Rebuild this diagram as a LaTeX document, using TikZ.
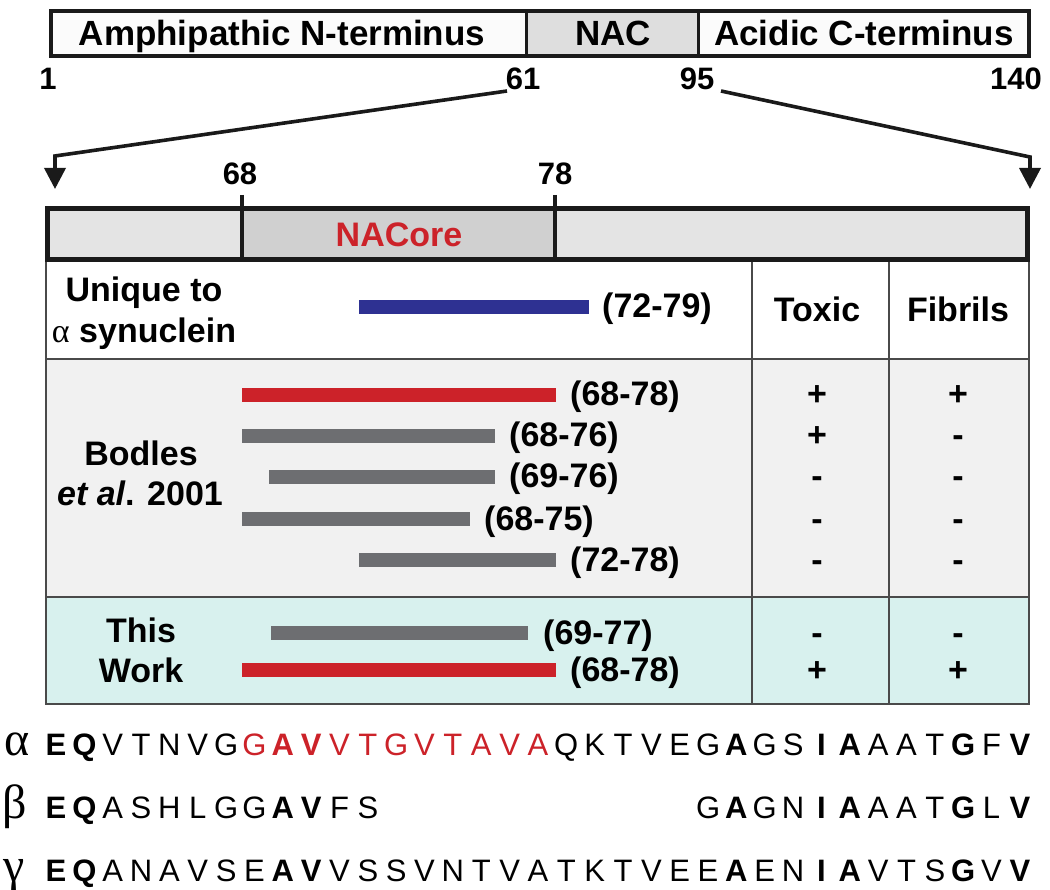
\documentclass[tikz,border=0pt]{standalone}
\usepackage{fontspec}
\setmainfont{Liberation Sans}
\newfontfamily\greekserif{Liberation Serif}
\usetikzlibrary{arrows.meta}
\definecolor{nacgray}{HTML}{DEDEDE}
\definecolor{boxwhite}{HTML}{FBFBFB}
\definecolor{coreside}{HTML}{E4E4E4}
\definecolor{coremid}{HTML}{D0D0D0}
\definecolor{rowgray}{HTML}{F1F1F1}
\definecolor{rowcyan}{HTML}{D8F1EE}
\definecolor{barred}{HTML}{CC2229}
\definecolor{barblue}{HTML}{2E3192}
\definecolor{bargray}{HTML}{6D6E71}
\definecolor{gridline}{HTML}{4A4A4A}
\definecolor{ink}{HTML}{1A1A1A}
\begin{document}
\begin{tikzpicture}[x=1pt,y=-1pt,
  big/.style={anchor=base,inner sep=0pt,font=\bfseries\fontsize{35}{40}\selectfont},
  lbl/.style={anchor=base,inner sep=0pt,font=\bfseries\fontsize{34}{38}\selectfont},
  num/.style={anchor=base,inner sep=0pt,font=\bfseries\fontsize{31}{36}\selectfont},
  rng/.style={anchor=base west,inner sep=0pt,font=\bfseries\fontsize{34}{38}\selectfont},
  pep/.style={line width=14pt},
  grid/.style={draw=gridline,line width=1.8pt},
  seqletter/.style={anchor=base,inner sep=0pt},
  sqn/.style={font=\fontsize{31}{34}\selectfont,text=black},
  sqb/.style={font=\bfseries\fontsize{31}{34}\selectfont,text=black},
  sqr/.style={font=\fontsize{31}{34}\selectfont,text=barred},
  sqrb/.style={font=\bfseries\fontsize{31}{34}\selectfont,text=barred},
  greek/.style={anchor=base,inner sep=0pt,font=\greekserif\fontsize{48}{52}\selectfont},
  conn/.style={draw=ink,line width=3.6pt,-{Triangle[width=21pt,length=21pt]}}]
\useasboundingbox (0,0) rectangle (1050,890);
\fill[white] (0,0) rectangle (1050,890);

% ---------- top domain box ----------
\fill[boxwhite] (51,11) rectangle (1029,56);
\fill[nacgray] (526,11) rectangle (698,56);
\draw[ink,line width=3.5pt] (51,11) rectangle (1029,56);
\draw[ink,line width=3pt] (526,11) -- (526,56);
\draw[ink,line width=3pt] (698,11) -- (698,56);
\node[big] (nterm) at (282,46) {Amphipathic N-terminus};
\node[big] (nac) at (613,46) {NAC};
\node[big] (cterm) at (864,46) {Acidic C-terminus};

\node[num] (n1) at (48,90) {1};
\node[num] (n61) at (523,90) {61};
\node[num] (n95) at (697,90) {95};
\node[num] (n140) at (1016,90) {140};

% ---------- expansion arrows ----------
\coordinate (aL0) at (507,91);
\coordinate (aL1) at (55,156);
\coordinate (aL2) at (55,189);
\coordinate (aR0) at (721,91);
\coordinate (aR1) at (1030,157);
\coordinate (aR2) at (1030,189);
\draw[conn,line join=miter] (aL0) -- (aL1) -- (aL2);
\draw[conn,line join=miter] (aR0) -- (aR1) -- (aR2);

% ---------- NACore bar ----------
\node[num] (n68) at (240,185) {68};
\node[num] (n78) at (555,185) {78};
\fill[coreside] (47,208) rectangle (1028,260);
\fill[coremid] (242,208) rectangle (555,260);
\draw[ink,line width=5pt] (47.5,208.5) rectangle (1027.5,259.5);
\draw[ink,line width=4pt] (242,195) -- (242,260);
\draw[ink,line width=4pt] (555,195) -- (555,260);
\node[lbl,text=barred] (nacore) at (399,247) {NACore};

% ---------- table ----------
\fill[white] (46,262) rectangle (1029,359);
\fill[rowgray] (46,359) rectangle (1029,597);
\fill[rowcyan] (46,597) rectangle (1029,704);
\draw[grid] (46,262) -- (46,704) -- (1029,704) -- (1029,262);
\draw[grid] (46,359) -- (1029,359);
\draw[grid] (46,597) -- (1029,597);
\draw[grid] (752,262) -- (752,704);
\draw[grid] (889,262) -- (889,704);

% header row
\node[lbl] (uniq) at (144,302) {Unique to};
\node[lbl] (asyn) at (144,343) {{\greekserif\mdseries α} synuclein};
\draw[pep,barblue] (359,307) -- (589,307);
\node[rng] (r7279) at (602,318) {(72-79)};
\node[lbl] (toxic) at (817,322) {Toxic};
\node[lbl] (fibrils) at (958,322) {Fibrils};

% Bodles rows
\node[lbl] (bod1) at (141,465) {Bodles};
\node[lbl] (bod2) at (140,505) {\textit{et al}. 2001};
\draw[pep,barred]  (242,395) -- (556,395);
\node[rng] (b1) at (570,406) {(68-78)};
\draw[pep,bargray] (242,436) -- (495,436);
\node[rng] (b2) at (509,447) {(68-76)};
\draw[pep,bargray] (269,477) -- (495,477);
\node[rng] (b3) at (509,488) {(69-76)};
\draw[pep,bargray] (242,519) -- (470,519);
\node[rng] (b4) at (484,530) {(68-75)};
\draw[pep,bargray] (359,560) -- (556,560);
\node[rng] (b5) at (570,571) {(72-78)};

\node[lbl] (t1) at (817,406) {+};
\node[lbl] (f1) at (958,406) {+};
\node[lbl] (t2) at (817,447) {+};
\node[lbl] (f2) at (958,447) {-};
\node[lbl] (t3) at (817,488) {-};
\node[lbl] (f3) at (958,488) {-};
\node[lbl] (t4) at (817,530) {-};
\node[lbl] (f4) at (958,530) {-};
\node[lbl] (t5) at (817,571) {-};
\node[lbl] (f5) at (958,571) {-};

% This work rows
\node[lbl] (this) at (141,642) {This};
\node[lbl] (work) at (141,682) {Work};
\draw[pep,bargray] (271,633) -- (528,633);
\node[rng] (w1) at (543,644) {(69-77)};
\draw[pep,barred]  (242,670) -- (556,670);
\node[rng] (w2) at (570,681) {(68-78)};
\node[lbl] (t6) at (817,644) {-};
\node[lbl] (f6) at (958,644) {-};
\node[lbl] (t7) at (817,681) {+};
\node[lbl] (f7) at (958,681) {+};

% ---------- sequences ----------
\node[greek] (ga) at (17,755) {α};
\node[greek] (gb) at (15,818) {β};
\node[greek] (gg) at (14,881) {γ};
\foreach \l/\s [count=\i from 0] in {E/sqb,Q/sqb,V/sqn,T/sqn,N/sqn,V/sqn,G/sqn,G/sqr,A/sqrb,V/sqrb,V/sqr,T/sqr,G/sqr,V/sqr,T/sqr,A/sqr,V/sqr,A/sqr,Q/sqn,K/sqn,T/sqn,V/sqn,E/sqn,G/sqn,A/sqb,G/sqn,S/sqn,I/sqb,A/sqb,A/sqn,A/sqn,T/sqn,G/sqb,F/sqn,V/sqb}
  {\node[seqletter,\s,name=sa\i] at ({56+28.35*\i},755) {\l};}
\foreach \l/\s [count=\i from 0] in {E/sqb,Q/sqb,A/sqn,S/sqn,H/sqn,L/sqn,G/sqn,G/sqn,A/sqb,V/sqb,F/sqn,S/sqn}
  {\node[seqletter,\s,name=sb\i] at ({56+28.35*\i},818) {\l};}
\foreach \l/\s [count=\i from 23] in {G/sqn,A/sqb,G/sqn,N/sqn,I/sqb,A/sqb,A/sqn,A/sqn,T/sqn,G/sqb,L/sqn,V/sqb}
  {\node[seqletter,\s,name=sb\i] at ({56+28.35*\i},818) {\l};}
\foreach \l/\s [count=\i from 0] in {E/sqb,Q/sqb,A/sqn,N/sqn,A/sqn,V/sqn,S/sqn,E/sqn,A/sqb,V/sqb,V/sqn,S/sqn,S/sqn,V/sqn,N/sqn,T/sqn,V/sqn,A/sqn,T/sqn,K/sqn,T/sqn,V/sqn,E/sqn,E/sqn,A/sqb,E/sqn,N/sqn,I/sqb,A/sqb,V/sqn,T/sqn,S/sqn,G/sqb,V/sqn,V/sqb}
  {\node[seqletter,\s,name=sg\i] at ({56+28.35*\i},881) {\l};}
\end{tikzpicture}
\end{document}
